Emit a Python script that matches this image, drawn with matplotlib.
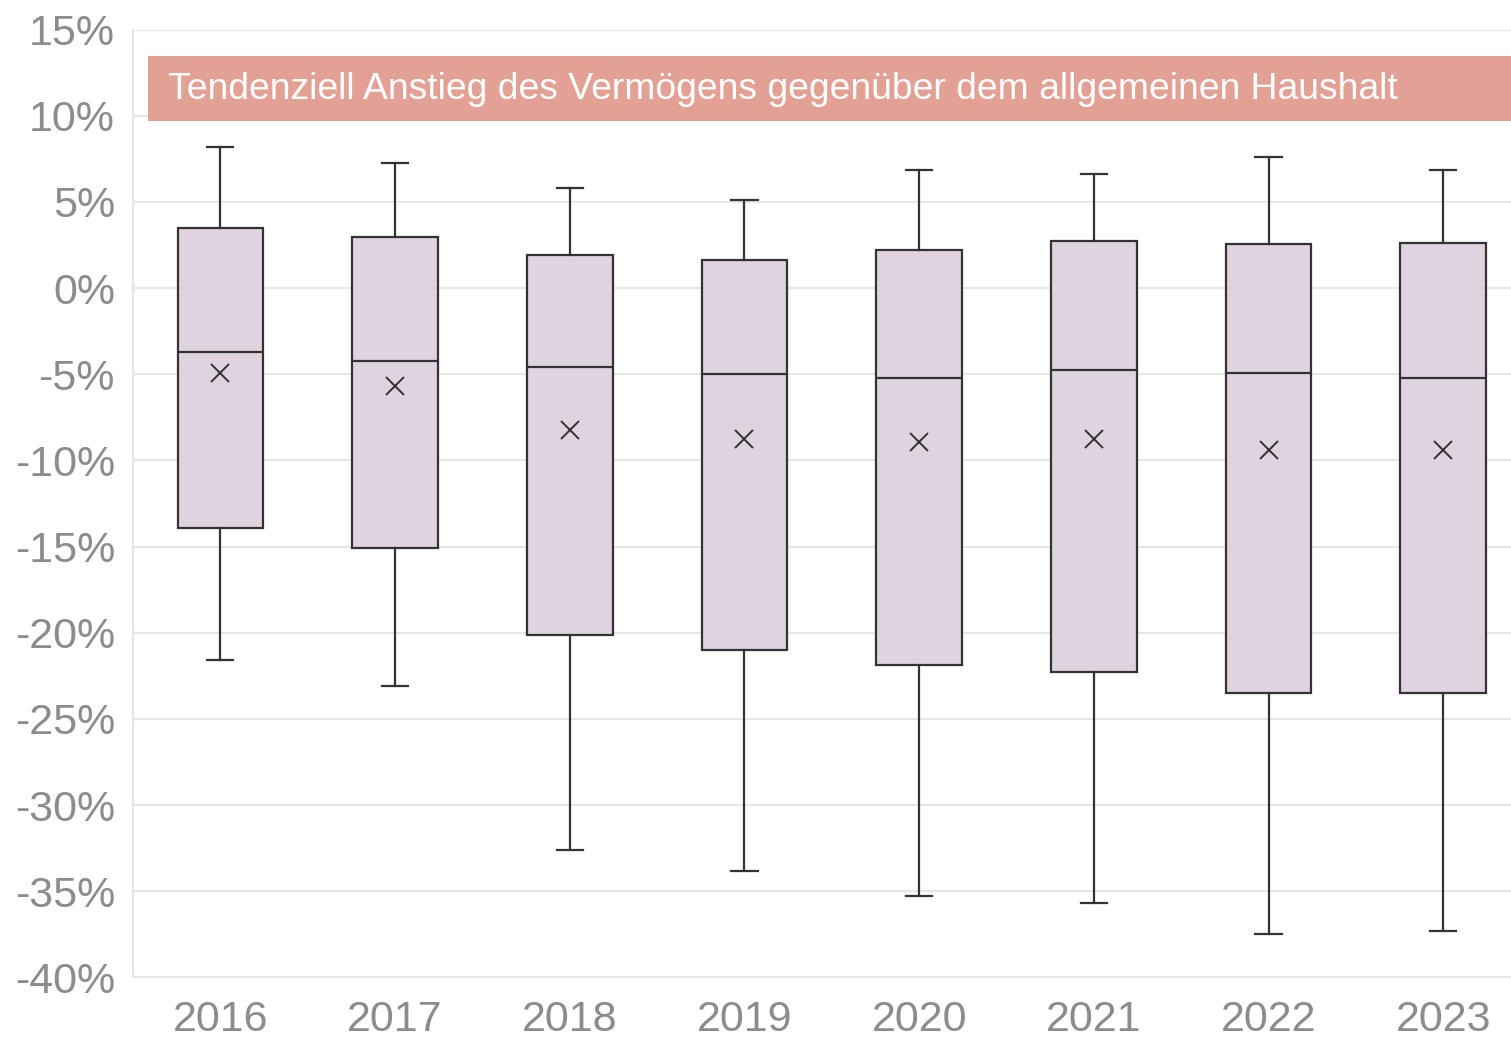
import matplotlib.pyplot as plt
from matplotlib.patches import Rectangle

years = ["2016", "2017", "2018", "2019", "2020", "2021", "2022", "2023"]
whisker_hi = [8.17, 7.24, 5.8, 5.1, 6.84, 6.6, 7.6, 6.84]
q3 = [3.46, 2.94, 1.91, 1.6, 2.2, 2.72, 2.55, 2.6]
median = [-3.73, -4.25, -4.6, -5.0, -5.22, -4.76, -4.93, -5.22]
mean = [-4.95, -5.70, -8.24, -8.76, -8.93, -8.76, -9.4, -9.4]
q1 = [-13.9, -15.1, -20.15, -21.0, -21.87, -22.3, -23.5, -23.5]
whisker_lo = [-21.6, -23.1, -32.6, -33.8, -35.3, -35.7, -37.5, -37.3]
banner_text = "Tendenziell Anstieg des Vermögens gegenüber dem allgemeinen Haushalt"

plt.rcParams['font.family'] = ['Liberation Sans', 'DejaVu Sans']

fig = plt.figure(figsize=(15.11, 10.41), dpi=100)
W, H = 1511, 1041
left, right, top, bottom = 133, 1511, 29.5, 977.5
ax = fig.add_axes([left / W, 1 - bottom / H, (right - left) / W, (bottom - top) / H])

stats = []
for i in range(len(years)):
    stats.append({
        'med': median[i], 'q1': q1[i], 'q3': q3[i],
        'whislo': whisker_lo[i], 'whishi': whisker_hi[i],
        'mean': mean[i], 'fliers': [], 'label': years[i],
    })

edge = '#333333'
ax.bxp(stats, positions=range(len(years)), widths=0.49, patch_artist=True,
       showmeans=True, meanline=False,
       boxprops=dict(facecolor='#DFD3E0', edgecolor=edge, linewidth=1.6),
       medianprops=dict(color=edge, linewidth=1.6),
       whiskerprops=dict(color=edge, linewidth=1.6),
       capprops=dict(color=edge, linewidth=1.6),
       meanprops=dict(marker='x', markeredgecolor=edge, markersize=13, markeredgewidth=1.4),
       capwidths=0.15, zorder=3)

step = (right - left) / (1530.6 - left) * 8
ax.set_xlim(-0.5, -0.5 + step)
ax.set_ylim(-40, 15)
ax.set_yticks(range(-40, 16, 5))
ax.set_yticklabels([f"{v}%" for v in range(-40, 16, 5)])
ax.grid(axis='y', color='#E6E6E6', linewidth=1.5, zorder=0)
ax.set_axisbelow(True)
for s in ['top', 'right', 'bottom']:
    ax.spines[s].set_visible(False)
ax.spines['left'].set_color('#E6E6E6')
ax.spines['left'].set_linewidth(1.5)
ax.tick_params(axis='both', length=0, labelsize=31, labelcolor='#8C8C8C')
ax.tick_params(axis='y', pad=13)
ax.tick_params(axis='x', pad=16)

# banner
x0 = -0.5 + (148 - left) / (1530.6 - left) * 8
ax.add_patch(Rectangle((x0, 9.72), 10, 13.49 - 9.72, facecolor='#E3A195',
                       edgecolor='none', zorder=4, clip_on=True))
ax.text(x0 + 0.115, (9.72 + 13.49) / 2 - 0.1, banner_text, color='white', fontsize=26.8,
        va='center', ha='left', zorder=5)

fig.savefig('out.png', dpi=100)
